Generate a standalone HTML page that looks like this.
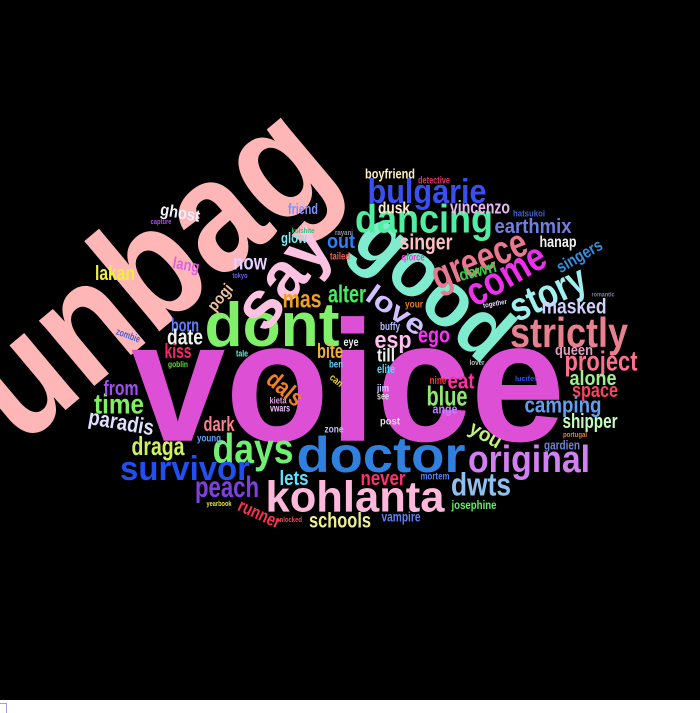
<!DOCTYPE html>
<html><head><meta charset="utf-8">
<style>
html,body{margin:0;padding:0;background:#fff;}
#wrap{position:relative;width:700px;height:713px;overflow:hidden;background:#fff;}
svg{position:absolute;left:0;top:0;}
#corner{position:absolute;left:0;top:703px;width:6px;height:10px;border-top:1px solid #9aa0e0;border-right:1px solid #9aa0e0;}
</style></head>
<body>
<div id="wrap">
<svg id="cloud" width="700" height="700" viewBox="0 0 700 700">
<rect x="0" y="0" width="700" height="700" fill="#000"></rect>
</svg>
<div id="corner"></div>
</div>
<script>
const words = ["unbag","voice","dont","say","good","bulgarie","dancing","boyfriend","detective","dusk","vincenzo","ghost","capture","friend","koishite","glow","out","rayani","singer","greece","come","story","singers","earthmix","hatsukoi","hanap","qforce","dawn","love","masked","strictly","romantic","your","together","ego","esp","buffy","till","elite","queen","project","alone","space","eat","nine","lover","blue","ange","camping","lucifer","shipper","you","portugal","gardien","original","doctor","days","survivor","kohlanta","peach","dwts","lets","never","mortem","josephine","vampire","schools","unlocked","runner","yearbook","draga","paradis","time","from","dark","young","zone","post","dals","kieta","vwars","lakan","lang","now","pogi","mas","alter","born","date","kiss","zombie","bite","eye","ben","tale","goblin","tailed","tokyo","jim","see","can"];
const counts = [162,172,62,68,80,34,40,14,10,17,18,17,7,15,7,15,20,7,22,40,40,40,17,20,9,16,10,17,28,21,42,6,10,7,22,24,11,18,12,15,28,20,20,22,11,7,28,13,22,7,20,20,7,13,38,50,42,34,44,30,32,20,20,10,12,14,21,7,18,7,26,22,28,20,20,10,10,10,24,9,10,20,16,21,16,25,25,18,22,20,10,20,12,10,9,8,10,7,10,10,10];
const colors = ["#ffb6b6","#dd50d6","#80ef6a","#ffc2e2","#7fecd0","#3a4ff0","#50eea0","#ffeebb","#e0306a","#ffe8d0","#e9b8f0","#f0f0ff","#b050f0","#8090ff","#30c080","#80e8f0","#2a80ff","#9090a0","#ffc0c0","#e87890","#ee30ee","#a0f0f0","#3090e0","#7080e0","#4060d0","#f0f0f0","#ff30d0","#30d040","#d0c0ff","#d0d0ff","#e88090","#8080a0","#e08020","#e0e0ff","#ff30ff","#ffc0f0","#b0c0ff","#f0f0f0","#40e0ff","#e0a0c0","#ff7090","#a0f090","#ff4060","#ff30a0","#ff3030","#c0c0c0","#90e870","#c080ff","#60a0f0","#3050ff","#c0ffc0","#c0f080","#e08030","#7080d0","#d080f0","#3080e0","#70f070","#2050f0","#ffb8dc","#8040e0","#90c0f0","#60e0ff","#ff3070","#5080ff","#60f060","#6080f0","#f0f090","#e05050","#ff3050","#e0e030","#d0f060","#e0e0ff","#80f060","#a050f0","#ff8090","#60a0ff","#c0c0ff","#e0e0e0","#f08020","#e0a0e0","#f0c0ff","#f0f040","#e060e0","#e8d0ff","#f0c0a0","#f0a020","#40f060","#6080ff","#f0f0f0","#ff2070","#4060e0","#f0b030","#f0f0f0","#60d0ff","#60f0e0","#60e030","#f06060","#6060ff","#d0d0ff","#e0e0e0","#f0d040"];
// layout: [centerX, centerY, rotation, textLength]
const layout = [[155,280,-40,420],[348,396,0,434],[272,330,0,135],[286,280,-52,112],[430,290,42,180],[427,194,0,119],[424,222,0,138],[390,175,0,50],[434,181,0,32],[394,209,0,32],[480,209,0,60],[180,214,10,40],[161,222,0,21],[303,210,0,30],[303,231,0,23],[294,239,0,26],[341,243,0,28],[344,233,0,18],[426,244,0,53],[480,262,-22,100],[507,277,-30,86],[549,296,-25,80],[580,257,-30,50],[533,228,0,77],[529,214,0,32],[558,243,0,37],[413,258,0,23],[478,272,-15,38],[395,312,35,66],[574,308,0,65],[569,336,0,118],[603,295,0,23],[414,305,0,18],[495,304,-10,24],[434,337,0,32],[393,342,0,37],[390,327,0,20],[386,357,0,18],[386,370,0,18],[574,351,0,38],[601,363,0,73],[593,380,0,47],[595,392,0,46],[461,383,0,27],[438,381,0,17],[477,363,0,15],[447,398,0,41],[445,410,0,25],[563,407,0,77],[526,379,0,22],[590,423,0,55],[485,436,30,34],[575,435,0,24],[562,446,0,36],[529,462,0,122],[381,459,0,169],[253,452,0,81],[185,471,0,130],[355,500,0,179],[227,489,0,64],[481,487,0,60],[294,480,0,29],[383,480,0,45],[435,477,0,29],[474,506,0,45],[401,518,0,39],[340,522,0,62],[289,520,0,26],[259,515,25,45],[219,504,0,25],[158,448,0,53],[121,424,10,66],[119,406,0,50],[121,390,0,35],[219,426,0,31],[209,439,0,24],[334,430,0,19],[390,422,0,20],[284,390,40,40],[278,401,0,17],[280,409,0,20],[115,275,0,40],[186,266,10,27],[250,264,0,34],[221,298,-50,30],[302,301,0,39],[347,296,0,38],[185,327,0,28],[185,339,0,36],[178,353,0,27],[128,336,20,25],[330,353,0,26],[351,343,0,15],[336,365,0,14],[242,354,0,12],[178,365,0,20],[340,257,0,20],[240,276,0,15],[383,389,0,12],[383,397,0,12],[336,381,40,14]];

const NS = "http://www.w3.org/2000/svg";
const svg = document.getElementById('cloud');
function fontSize(c){ return c; }
words.forEach((w,i)=>{
  const fs = fontSize(counts[i]);
  const L = layout[i];
  const g = document.createElementNS(NS,'g');
  g.setAttribute('transform','translate('+L[0]+','+L[1]+') rotate('+L[2]+')');
  const t = document.createElementNS(NS,'text');
  
  
  t.setAttribute('x', 0);
  t.setAttribute('y', (0.26*fs).toFixed(1));
  t.setAttribute('text-anchor','middle');
  t.setAttribute('font-family','"Liberation Sans", "DejaVu Sans", sans-serif');
  t.setAttribute('font-weight','bold');
  t.setAttribute('font-size', fs);
  t.setAttribute('fill', colors[i]);
  t.setAttribute('textLength', L[3]);
  t.setAttribute('lengthAdjust','spacingAndGlyphs');
  t.textContent = w;
  g.appendChild(t);
  svg.appendChild(g);
});
</script>
</body></html>
